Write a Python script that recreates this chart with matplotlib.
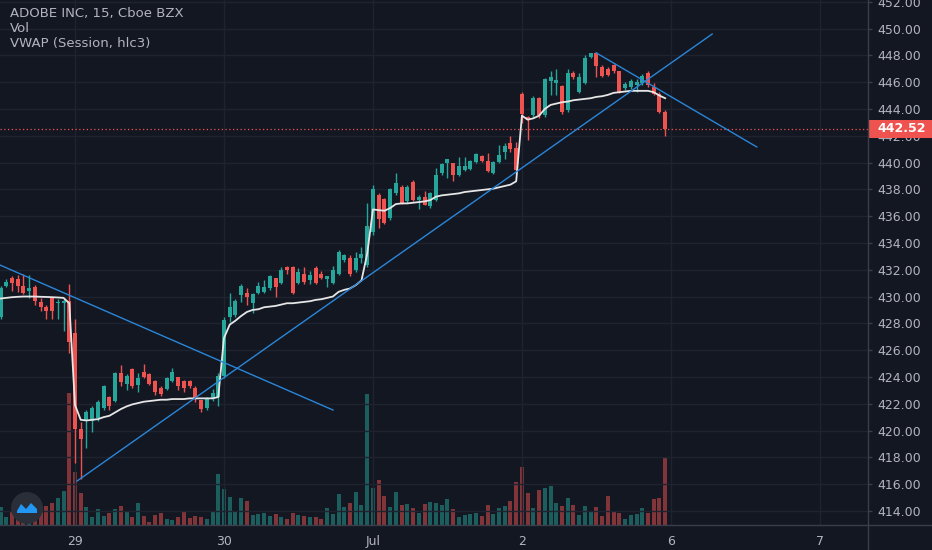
import numpy as np
import matplotlib
matplotlib.use('Agg')
import matplotlib.pyplot as plt
from matplotlib.transforms import blended_transform_factory
from matplotlib.patches import Rectangle, Circle, Polygon
from matplotlib.lines import Line2D

# ---------------- data (15-min bars, index 0 = first bar of Jun 29) ----------------
bar_index = list(range(-13, 104))

opens = [428.5, 430.8, 431.35, 431.3, 430.8, 430.4, 430.7, 429.6, 429.2, 429.9, 429.5, 429.5, 429.7,
         427.3, 420.1, 420.8, 420.7, 420.9, 421.7, 422.5, 422.2, 424.3, 423.5, 424.6, 423.4, 424.4,
         424.2, 423.7, 423.2, 423.1, 423.7, 424.0, 423.7, 423.7, 423.2, 422.25, 421.7, 422.35, 422.5,
         424.1, 428.5, 428.6, 430.1, 430.3, 429.5, 430.25, 430.35, 430.6, 431.4, 431.0, 432.2, 432.2,
         431.0, 431.7, 431.2, 432.15, 431.65, 431.3, 431.0, 431.7, 432.7, 432.9, 432.0, 432.85, 432.35,
         434.8, 437.6, 437.3, 435.85, 437.7, 438.2, 437.1, 438.55, 437.2, 437.45, 436.75, 437.2, 439.2,
         440.0, 439.95, 439.1, 439.45, 439.5, 440.06, 440.5, 440.15, 439.25, 440.06, 440.8, 441.45, 441.05,
         445.15, 443.4, 443.55, 444.8, 443.55, 446.05, 445.9, 445.7, 443.9, 446.65, 445.3, 445.9, 447.85,
         448.2, 447.1, 446.95, 447.25, 446.8, 445.55, 445.6, 445.8, 445.95, 446.65, 445.65, 445.15, 443.8]
highs = [430.8, 431.3, 431.5, 431.6, 431.7, 431.6, 430.85, 429.9, 429.4, 429.9, 429.85, 429.8, 430.9,
         428.3, 420.6, 421.55, 421.8, 422.3, 423.4, 422.6, 424.4, 424.9, 424.2, 424.7, 424.3, 425.0,
         424.3, 423.8, 423.3, 424.0, 424.7, 424.0, 423.8, 423.8, 423.3, 422.3, 422.5, 423.1, 424.3,
         428.5, 430.3, 429.8, 430.9, 430.6, 430.25, 431.1, 431.2, 431.6, 431.4, 432.2, 432.3, 432.3,
         432.1, 432.2, 431.9, 432.3, 431.9, 431.5, 432.3, 433.5, 433.2, 433.1, 433.3, 433.7, 436.97,
         438.32, 437.75, 437.35, 438.1, 439.2, 438.3, 438.35, 438.7, 437.6, 437.9, 437.8, 439.57, 440.0,
         440.3, 440.0, 440.45, 440.45, 440.2, 440.7, 440.55, 440.7, 440.1, 441.3, 441.43, 442.0, 441.55,
         445.3, 443.5, 445.0, 444.9, 446.3, 446.83, 447.0, 445.8, 446.95, 446.8, 446.65, 448.0, 448.2,
         448.25, 447.3, 447.15, 447.35, 446.85, 446.0, 446.2, 446.2, 446.6, 446.8, 445.9, 445.3, 443.9]
lows = [428.3, 430.7, 430.4, 430.35, 430.2, 429.9, 429.4, 428.9, 428.3, 428.3, 428.3, 427.4, 425.8,
        417.6, 416.4, 418.7, 419.9, 420.7, 421.5, 421.5, 422.1, 423.3, 423.0, 423.2, 422.9, 423.9,
        423.4, 422.65, 422.55, 423.0, 423.6, 423.05, 422.9, 423.2, 422.1, 421.4, 421.5, 422.2, 421.8,
        423.9, 428.1, 428.5, 429.6, 429.4, 428.75, 430.2, 430.3, 430.5, 430.0, 430.95, 431.7, 430.2,
        430.9, 430.9, 430.9, 430.9, 431.3, 430.7, 430.9, 431.6, 432.6, 431.5, 431.8, 432.5, 432.2,
        434.6, 435.1, 435.4, 435.7, 437.6, 436.9, 437.0, 437.1, 436.5, 436.8, 436.6, 437.1, 439.1,
        438.85, 438.65, 439.0, 439.4, 439.45, 440.0, 440.05, 439.3, 439.15, 440.0, 440.3, 440.8, 439.2,
        442.95, 441.7, 443.4, 443.3, 443.4, 445.04, 445.04, 443.6, 443.8, 446.2, 445.2, 445.85, 447.8,
        446.4, 446.4, 446.45, 446.7, 445.2, 445.45, 445.5, 445.3, 445.8, 445.6, 445.05, 443.7, 441.95]
closes = [430.6, 431.1, 431.0, 430.8, 430.3, 430.6, 429.7, 429.2, 428.9, 428.9, 429.6, 429.7, 426.6,
          420.1, 419.4, 421.4, 421.7, 422.1, 423.3, 421.8, 424.3, 423.6, 424.1, 423.3, 423.9, 424.0,
          423.5, 422.9, 422.7, 423.9, 424.35, 423.3, 423.15, 423.35, 422.4, 421.6, 422.35, 422.8, 424.1,
          428.25, 429.2, 429.7, 430.8, 430.0, 430.2, 430.75, 430.7, 431.5, 430.7, 432.0, 432.0, 430.25,
          431.85, 431.1, 431.6, 431.0, 431.35, 431.5, 432.0, 433.35, 433.1, 431.7, 432.85, 433.2, 435.25,
          438.0, 435.8, 435.5, 438.0, 438.45, 436.95, 438.2, 437.2, 437.45, 436.85, 437.7, 439.05, 439.9,
          440.25, 439.1, 439.75, 439.75, 440.1, 440.6, 440.15, 439.4, 440.05, 440.55, 441.25, 441.0, 439.45,
          443.65, 443.15, 444.8, 443.55, 446.2, 446.4, 446.15, 443.8, 446.65, 446.35, 446.4, 447.8, 448.15,
          447.2, 446.45, 446.55, 446.8, 445.3, 445.85, 446.1, 446.0, 446.45, 445.8, 445.15, 443.8, 442.52]
volumes_k = [110, 50, 80, 60, 40, 50, 74, 100, 116, 130, 160, 204, 790,
             320, 190, 110, 50, 94, 54, 70, 94, 114, 80, 50, 130, 54,
             20, 60, 74, 34, 30, 46, 86, 40, 54, 50, 34, 80, 304,
             216, 170, 86, 160, 146, 60, 66, 74, 54, 66, 46, 34, 74,
             60, 54, 46, 50, 34, 100, 66, 184, 106, 130, 196, 120, 786,
             224, 270, 174, 110, 200, 120, 126, 100, 74, 126, 140, 134, 120,
             154, 94, 50, 60, 66, 70, 54, 120, 66, 100, 116, 146, 260,
             346, 190, 100, 210, 220, 234, 130, 114, 160, 120, 60, 114, 80,
             106, 54, 174, 86, 70, 34, 60, 64, 100, 74, 154, 164, 410]
vwap = [429.85, 429.9, 429.95, 429.98, 430.0, 430.0, 430.0, 429.98, 429.97, 429.95, 429.93, 429.9, 429.5,
        421.9, 420.8, 420.75, 420.8, 420.85, 421.0, 421.1, 421.35, 421.6, 421.8, 421.95, 422.05, 422.15,
        422.2, 422.25, 422.3, 422.3, 422.35, 422.35, 422.35, 422.4, 422.4, 422.4, 422.4, 422.4, 422.5,
        426.9, 427.9, 428.2, 428.55, 428.85, 429.0, 429.05, 429.2, 429.25, 429.3, 429.4, 429.5, 429.5,
        429.55, 429.6, 429.65, 429.75, 429.8, 429.9, 430.0, 430.35, 430.5, 430.6, 430.85, 431.2, 433.2,
        436.5, 436.45, 436.4, 436.6, 436.9, 436.95, 436.95, 437.0, 437.05, 437.1, 437.2, 437.45, 437.55,
        437.6, 437.65, 437.7, 437.8, 437.85, 437.9, 437.95, 438.0, 438.05, 438.15, 438.25, 438.35, 438.6,
        443.5, 443.2, 443.3, 443.5, 444.0, 444.3, 444.4, 444.5, 444.55, 444.65, 444.7, 444.75, 444.8,
        444.9, 444.95, 445.05, 445.2, 445.25, 445.3, 445.35, 445.35, 445.35, 445.35, 445.25, 445.0, 444.8]

day_tick_index = [0, 26, 52, 78, 104, 130]
day_tick_labels = ['29', '30', 'Jul', '2', '6', '7']
price_ticks = list(range(414, 453, 2))
last_price = 442.52

# drawn trend lines (bar index, price)
trend1_x = [-13.09, 45.03]
trend1_y = [432.35, 421.53]
trend2_x = [0.35, 111.2]
trend2_y = [416.23, 449.59]
trend3_x = [90.95, 119.0]
trend3_y = [448.19, 441.16]

legend_lines = ['ADOBE INC, 15, Cboe BZX', 'Vol', 'VWAP (Session, hlc3)']

# ---------------- style ----------------
BG = '#131722'
GRID = '#1f2330'
TXT = '#b2b5be'
UP = '#26a69a'
DN = '#ef5350'
BORDER = '#3a3e4a'
TREND = '#2a86d8'

W, H = 932, 550
fig = plt.figure(figsize=(W / 100, H / 100), dpi=100, facecolor=BG)
rect = [0, 25 / H, 868 / W, 525 / H]

axv = fig.add_axes(rect)
axv.set_facecolor(BG)
ax = fig.add_axes(rect, sharex=axv)
ax.patch.set_visible(False)

o = np.array(opens); h = np.array(highs); l = np.array(lows); c = np.array(closes)
x = np.array(bar_index)
up = c >= o
cols = [UP if u else DN for u in up]

# volume
axv.bar(x, volumes_k, width=0.7, color=cols, alpha=0.5, linewidth=0)
axv.set_ylim(0, 3150)
axv.tick_params(left=False, labelleft=False, bottom=False, labelbottom=False)
for s in axv.spines.values():
    s.set_visible(False)

# candles
ax.set_axisbelow(True)
ax.vlines(x, l, h, colors=cols, linewidth=1.0, zorder=2)
ax.bar(x, np.maximum(np.abs(c - o), 0.05), bottom=np.minimum(o, c), width=0.7,
       color=cols, linewidth=0, zorder=2.1)

# vwap
ax.plot(x, vwap, color='#e6e6e6', linewidth=1.3, zorder=3)

# trend lines
for tx, ty in ((trend1_x, trend1_y), (trend2_x, trend2_y), (trend3_x, trend3_y)):
    ax.plot(tx, ty, color=TREND, linewidth=1.0, zorder=4)

# last price line + label
ax.axhline(last_price, color=DN, linewidth=0.9, linestyle=(0, (1, 2)), zorder=1.8)
bt = blended_transform_factory(ax.transAxes, ax.transData)
ax.add_patch(Rectangle((1.0, last_price - 0.67), 64 / 868, 1.34, transform=bt,
                       facecolor=DN, edgecolor='none', clip_on=False, zorder=10))
ax.text(1.0 + 9 / 868, last_price, f'{last_price:.2f}', transform=bt, color='white',
        fontsize=9, fontweight='bold', va='center', ha='left', zorder=11, clip_on=False)

ax.set_xlim(-13.09, 138.4)
ax.set_ylim(412.95, 452.13)

ax.set_xticks(day_tick_index)
ax.set_xticklabels(day_tick_labels)
ax.set_yticks(price_ticks)
ax.set_yticklabels([f'{p:.2f}' for p in price_ticks])
ax.yaxis.tick_right()
ax.tick_params(axis='y', right=True, left=False, labelright=True, labelleft=False,
               length=3, width=1, color=BORDER, labelcolor=TXT, labelsize=9, pad=4)
ax.tick_params(axis='x', length=0, labelcolor=TXT, labelsize=9, pad=7)
ax.grid(True, color=GRID, linewidth=1.0)
for s in ax.spines.values():
    s.set_visible(False)

# pane borders
fig.add_artist(Line2D([868 / W, 868 / W], [0, 1], transform=fig.transFigure, color=BORDER, linewidth=1))
fig.add_artist(Line2D([0, 1], [25 / H, 25 / H], transform=fig.transFigure, color=BORDER, linewidth=1))

# legend text
for k, t in enumerate(legend_lines):
    fig.text(10 / W, 1 - (14 + 15 * k) / H, t, color=TXT, fontsize=9.5, va='center', ha='left')

# logo
cx, cy = 27 / 100, (H - 508) / 100
fig.add_artist(Circle((cx, cy), 0.16, transform=fig.dpi_scale_trans, facecolor='#2a2e39',
                      edgecolor='none'))
wave = [(-0.10, -0.03), (-0.06, 0.04), (-0.01, -0.01), (0.04, 0.05), (0.10, -0.01),
        (0.10, -0.05), (-0.10, -0.05)]
fig.add_artist(Polygon([(cx + a, cy + b) for a, b in wave], closed=True,
                       transform=fig.dpi_scale_trans, facecolor='#2196f3', edgecolor='none'))

fig.savefig('out.png', dpi=100, facecolor=BG)
